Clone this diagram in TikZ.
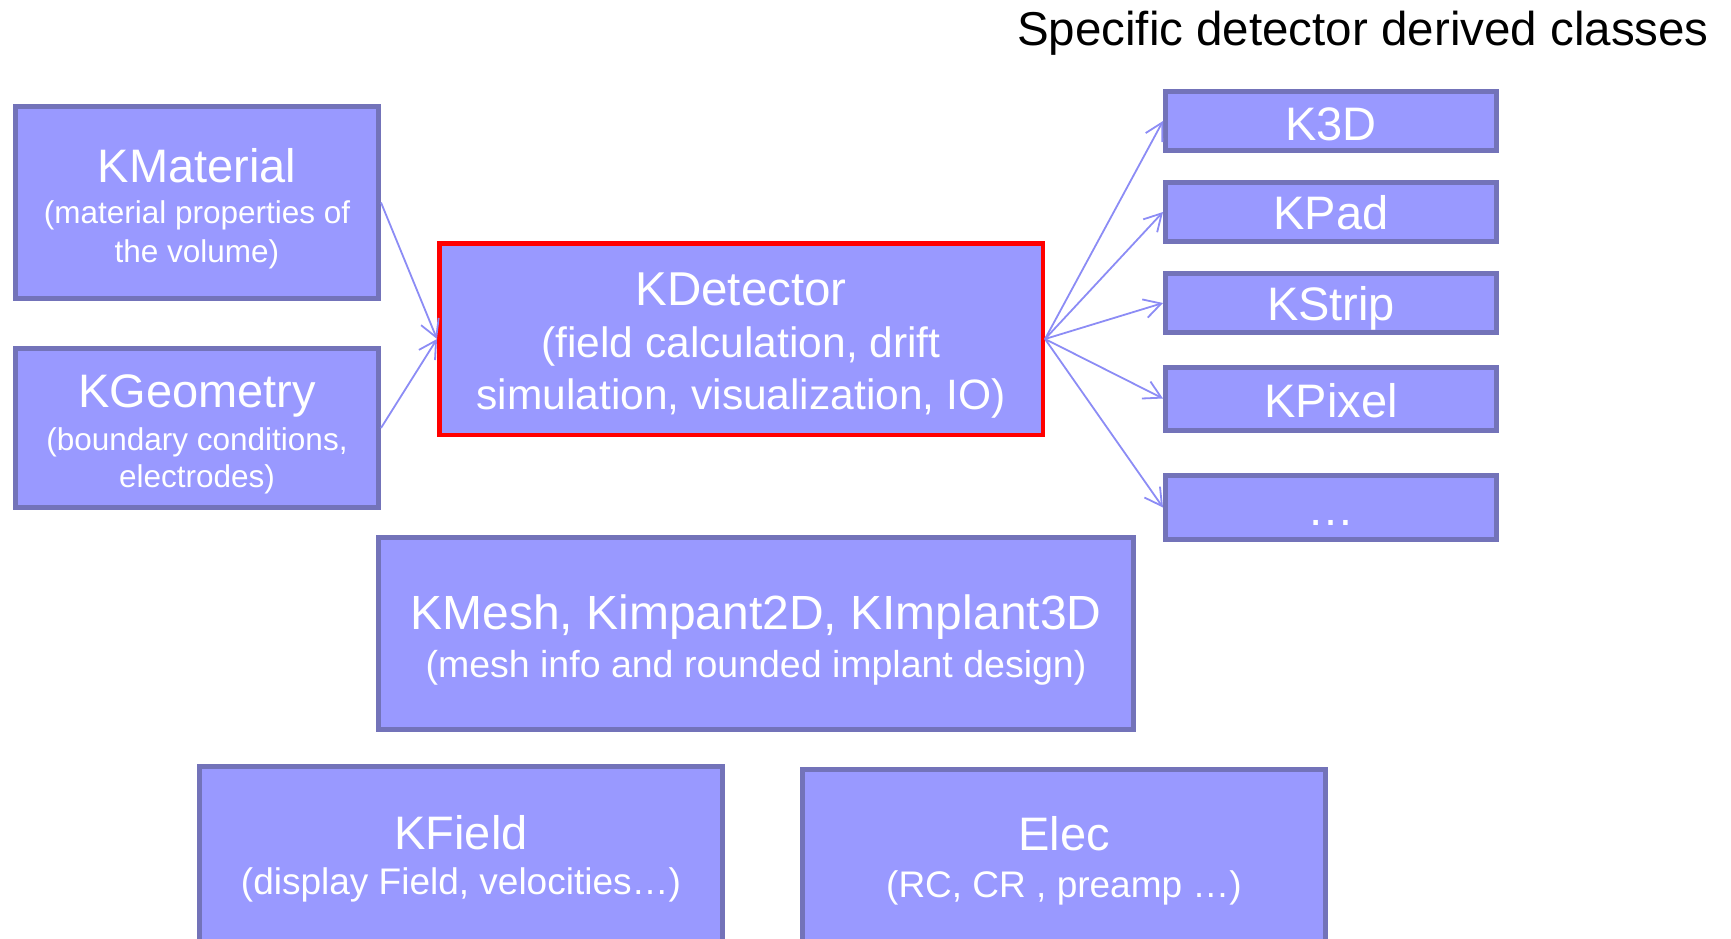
\documentclass[tikz,border=0pt]{standalone}
\usepackage{fontspec}
\setmainfont{Liberation Sans}
\usetikzlibrary{arrows.meta}

\definecolor{boxfill}{RGB}{153,153,255}
\definecolor{boxedge}{RGB}{115,115,185}
\definecolor{linkcol}{RGB}{140,140,245}
\definecolor{hilite}{RGB}{255,0,0}

\tikzset{
  cls/.style={draw=boxedge, fill=boxfill, line width=5pt, inner sep=0pt},
  core/.style={draw=hilite, fill=boxfill, line width=4.5pt, inner sep=0pt},
  ttl/.style={anchor=base, text=white, inner sep=0pt,
              font=\fontsize{#1}{#1}\selectfont},
  ttl/.default=47pt,
  sub/.style={anchor=base, text=white, inner sep=0pt,
              font=\fontsize{#1}{#1}\selectfont},
  sub/.default=37pt,
  link/.style={draw=linkcol, line width=1.8pt,
               -{Straight Barb[length=17pt,width=19pt]}}
}

\begin{document}
\begin{tikzpicture}[x=1pt, y=-1pt]
  \useasboundingbox (0,0) rectangle (1731,938);
  \clip (0,0) rectangle (1731,938);

  % heading of the derived-class column
  \node[anchor=base east, inner sep=0pt, font=\fontsize{47.5pt}{57pt}\selectfont]
    (hdr) at (1709,45) {Specific detector derived classes};

  % input classes
  \node[cls, minimum width=363pt, minimum height=192pt] (mat) at (197,202.5) {};
  \node[ttl] (matT) at (197,182) {KMaterial};
  \node[sub=31.5pt] (matA) at (197,223) {(material properties of};
  \node[sub=31.5pt] (matB) at (197,262) {the volume)};

  \node[cls, minimum width=363pt, minimum height=159pt] (geo) at (197,428) {};
  \node[ttl] (geoT) at (197,407) {KGeometry};
  \node[sub=31.5pt] (geoA) at (197,450) {(boundary conditions,};
  \node[sub=31.5pt] (geoB) at (197,487) {electrodes)};

  % central detector class
  \node[core, minimum width=603.5pt, minimum height=191.5pt] (det) at (741,339) {};
  \node[ttl=47.5pt] (detT) at (741,305) {KDetector};
  \node[sub=42.5pt] (detA) at (741,357) {(field calculation, drift};
  \node[sub=42.5pt] (detB) at (741,409) {simulation, visualization, IO)};

  % derived detector classes
  \node[cls, minimum width=331pt, minimum height=59pt] (k3d)    at (1331,121)   {};
  \node[cls, minimum width=331pt, minimum height=59pt] (kpad)   at (1331,212)   {};
  \node[cls, minimum width=331pt, minimum height=59pt] (kstrip) at (1331,303)   {};
  \node[cls, minimum width=331pt, minimum height=63pt] (kpixel) at (1331,398.5) {};
  \node[cls, minimum width=331pt, minimum height=64pt] (kmore)  at (1331,507.5) {};
  \node[ttl] (k3dT)    at (1331,140) {K3D};
  \node[ttl] (kpadT)   at (1331,229) {KPad};
  \node[ttl] (kstripT) at (1331,320) {KStrip};
  \node[ttl] (kpixelT) at (1331,417) {KPixel};
  \node[ttl] (kmoreT)  at (1331,525) {…};

  % helper classes
  \node[cls, minimum width=755pt, minimum height=192pt] (mesh) at (756,633.5) {};
  \node[ttl=48pt] (meshT) at (756,629) {KMesh, Kimpant2D, KImplant3D};
  \node[sub=37.5pt] (meshA) at (756,677) {(mesh info and rounded implant design)};

  \node[cls, minimum width=523.5pt, minimum height=188.5pt] (field) at (461,860.75) {};
  \node[ttl] (fieldT) at (461,849) {KField};
  \node[sub] (fieldA) at (461,894) {(display Field, velocities…)};

  \node[cls, minimum width=523pt, minimum height=185.5pt] (elec) at (1064,862.25) {};
  \node[ttl] (elecT) at (1064,850) {Elec};
  \node[sub] (elecA) at (1064,897) {(RC, CR , preamp …)};

  % connectors
  \draw[link] (mat.east) -- (det.west);
  \draw[link] (geo.east) -- (det.west);
  \foreach \n in {k3d,kpad,kstrip,kpixel,kmore}
    \draw[link] (det.east) -- (\n.west);
\end{tikzpicture}
\end{document}
